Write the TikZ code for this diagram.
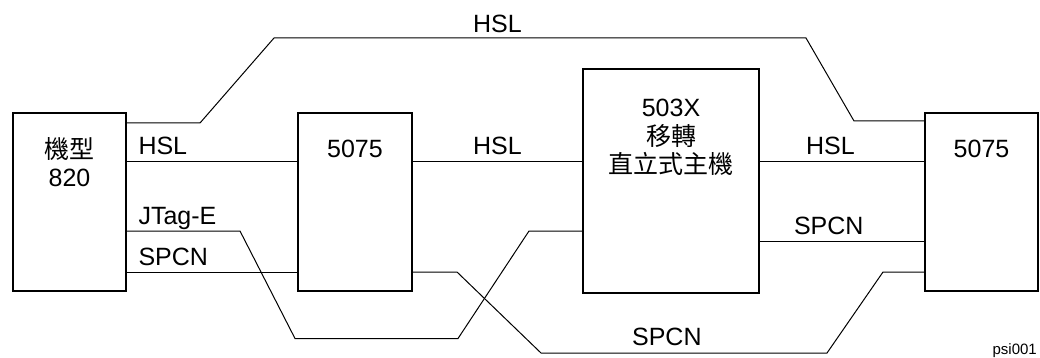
\documentclass[tikz,border=0pt]{standalone}
\usepackage{fontspec}
\setmainfont{Liberation Sans}
\newfontfamily\cjkfont{Noto Sans CJK TC}
\usepackage{tikz}
\usetikzlibrary{
  positioning,
  calc
}
\definecolor{psLine}{HTML}{000000}
\tikzset{
  psbox/.style={
    draw=psLine, line width=2pt, inner sep=0pt, outer sep=0pt,
    minimum width=113pt, minimum height=177pt
  },
  boxtext/.style={anchor=north, align=center, inner sep=0pt, font=\fontsize{25}{28.5}\selectfont},
  link/.style={draw=psLine, line width=1pt},
  tag/.style={font=\fontsize{25}{28}\selectfont, inner sep=0pt, anchor=base, yshift=7pt},
  lefttag/.style={tag, anchor=base west, xshift=12pt},
  figid/.style={font=\fontsize{15}{17}\selectfont, inner sep=0pt, anchor=base east}
}

\begin{document}
\begin{tikzpicture}[x=1pt, y=-1pt]
  \useasboundingbox (0,0) rectangle (1040,358);
  \node[psbox, minimum height=178pt] (m820) at (69.5,202)
    {}; 
  \node[boxtext, yshift=-24pt] (m820txt) at (m820.north) {{\cjkfont 機型}\\820};
  \node[psbox, minimum width=114pt, right=172pt of m820] (lft5075) {};
  \node[boxtext, yshift=-26pt] (lft5075txt) at (lft5075.north) {5075};
  \node[psbox, minimum width=176pt, minimum height=223pt, right=171pt of lft5075, yshift=21pt] (host) {};
  \node[boxtext, yshift=-29.5pt] (hosttxt) at (host.north) {503X\\{\cjkfont 移轉}\\{\cjkfont 直立式主機}};
  \node[psbox, right=166pt of host, yshift=-21pt] (rgt5075) {};
  \node[boxtext, yshift=-26pt] (rgt5075txt) at (rgt5075.north) {5075};
  % HSL links
  \draw[link] (m820.east |- 0,123) -- (200,123) -- (274,38)
    -- node[tag, pos=.42, yshift=-2pt] (hsltop) {HSL} (806,38) -- (854,121) -- (rgt5075.west |- 0,121);
  \draw[link] (m820.east |- 0,162) node[lefttag] (hsl1) {HSL} -- (lft5075.west |- 0,162);
  \draw[link] (lft5075.east |- 0,162) -- node[tag, midway] (hsl2) {HSL} (host.west |- 0,162);
  \draw[link] (host.east |- 0,162) -- node[tag, pos=.43] (hsl3) {HSL} (rgt5075.west |- 0,162);
  % JTag and SPCN
  \draw[link] (m820.east |- 0,231) node[lefttag] (jtag) {JTag-E} -- (240,231) -- (295,338.5)
    -- (458,338.5) -- (529,231) -- (host.west |- 0,231);
  \draw[link] (m820.east |- 0,272) node[lefttag] (spcn1) {SPCN} -- (lft5075.west |- 0,272);
  \draw[link] (lft5075.east |- 0,272) -- (457,272) -- (541,353)
    -- node[tag, pos=.44, yshift=1pt] (spcn2) {SPCN} (827,353) -- (883,272) -- (rgt5075.west |- 0,272);
  \draw[link] (host.east |- 0,241) -- node[tag, pos=.42] (spcn3) {SPCN} (rgt5075.west |- 0,241);
  \node[figid] (psi) at (1037,354.5) {psi001};
\end{tikzpicture}
\end{document}
